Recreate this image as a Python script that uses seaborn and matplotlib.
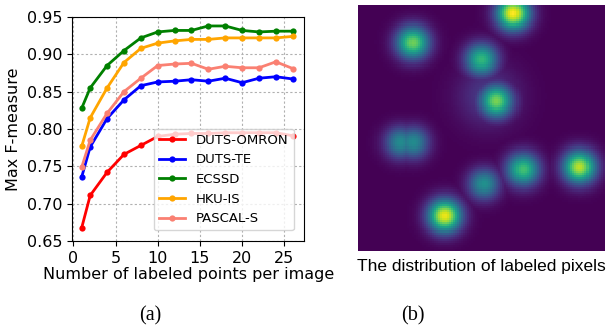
import numpy as np
import pandas as pd
import matplotlib
matplotlib.use("Agg")
import matplotlib.pyplot as plt
import seaborn as sns

# number of labeled points per image
n_points = [1, 2, 4, 6, 8, 10, 12, 14, 16, 18, 20, 22, 24, 26]

# max F-measure per dataset
duts_omron = [0.668, 0.711, 0.742, 0.766, 0.778, 0.790, 0.793, 0.794, 0.794, 0.795, 0.795, 0.795, 0.795, 0.791]
duts_te = [0.736, 0.776, 0.814, 0.839, 0.858, 0.863, 0.864, 0.866, 0.864, 0.868, 0.862, 0.868, 0.870, 0.867]
ecssd = [0.828, 0.855, 0.885, 0.905, 0.922, 0.930, 0.932, 0.932, 0.938, 0.938, 0.932, 0.930, 0.931, 0.931]
hku_is = [0.777, 0.815, 0.855, 0.889, 0.908, 0.915, 0.918, 0.920, 0.920, 0.922, 0.922, 0.922, 0.922, 0.924]
pascal_s = [0.749, 0.785, 0.821, 0.850, 0.868, 0.885, 0.887, 0.888, 0.880, 0.884, 0.882, 0.882, 0.890, 0.881]

dataset_names = ["DUTS-OMRON", "DUTS-TE", "ECSSD", "HKU-IS", "PASCAL-S"]
dataset_colors = ["red", "blue", "green", "orange", "salmon"]

# labeled pixel blobs (normalised image coords, peak value, spread)
blob_x = [0.22, 0.63, 0.50, 0.56, 0.53, 0.17, 0.22, 0.67, 0.90, 0.51, 0.35]
blob_y = [0.15, 0.03, 0.22, 0.39, 0.37, 0.56, 0.56, 0.67, 0.66, 0.73, 0.86]
blob_peak = [0.78, 1.00, 0.66, 0.80, 0.18, 0.48, 0.48, 0.70, 0.90, 0.50, 0.97]
blob_size = [0.047, 0.047, 0.046, 0.047, 0.085, 0.045, 0.045, 0.047, 0.047, 0.044, 0.047]

df = pd.DataFrame({
    "points": n_points * len(dataset_names),
    "fmeasure": duts_omron + duts_te + ecssd + hku_is + pascal_s,
    "dataset": np.repeat(dataset_names, len(n_points)),
})

fig = plt.figure(figsize=(6.06, 3.29), dpi=100)
ax = fig.add_axes([72.3 / 606, 1 - 241 / 329, (304.3 - 72.3) / 606, (241 - 17) / 329])

sns.lineplot(data=df, x="points", y="fmeasure", hue="dataset",
             palette=dict(zip(dataset_names, dataset_colors)),
             marker="o", markersize=4.5, markeredgewidth=0, linewidth=2, ax=ax)

ax.set_xlim(-0.12, 27.37)
ax.set_ylim(0.65, 0.95)
ax.set_xticks([0, 5, 10, 15, 20, 25])
ax.set_yticks([0.65, 0.70, 0.75, 0.80, 0.85, 0.90, 0.95])
ax.grid(True, color="#b0b0b0", linestyle=(0, (2, 2)), linewidth=0.8)
ax.tick_params(labelsize=11.5)
ax.set_xlabel("Number of labeled points per image", fontsize=11.5, labelpad=1)
ax.set_ylabel("Max F-measure", fontsize=11.5, labelpad=4)
handles, labels = ax.get_legend_handles_labels()
ax.legend(handles, labels, loc="lower right", fontsize=9.5, borderaxespad=0.8,
          handlelength=2.0, labelspacing=0.5)

# distribution of labeled pixels
grid = np.linspace(0, 1, 120)
gx, gy = np.meshgrid(grid, grid)
field = np.zeros_like(gx)
for bx, by, bp, bs in zip(blob_x, blob_y, blob_peak, blob_size):
    field = np.maximum(field, bp * np.exp(-((gx - bx) ** 2 + (gy - by) ** 2) / (2 * bs ** 2)))

ax2 = fig.add_axes([358 / 606, 1 - 251 / 329, 247 / 606, 246 / 329])
sns.heatmap(field, cmap="viridis", vmin=0, vmax=1, cbar=False,
            xticklabels=False, yticklabels=False, ax=ax2)

fig.text(481 / 606, 1 - 266 / 329, "The distribution of labeled pixels",
         family="Liberation Sans", fontsize=12.5, ha="center", va="center")
fig.text(150 / 606, 1 - 316 / 329, "(a)", family="Liberation Serif",
         fontsize=14.5, ha="center", va="center")
fig.text(413 / 606, 1 - 316 / 329, "(b)", family="Liberation Serif",
         fontsize=14.5, ha="center", va="center")

fig.savefig("out.png", dpi=100)
